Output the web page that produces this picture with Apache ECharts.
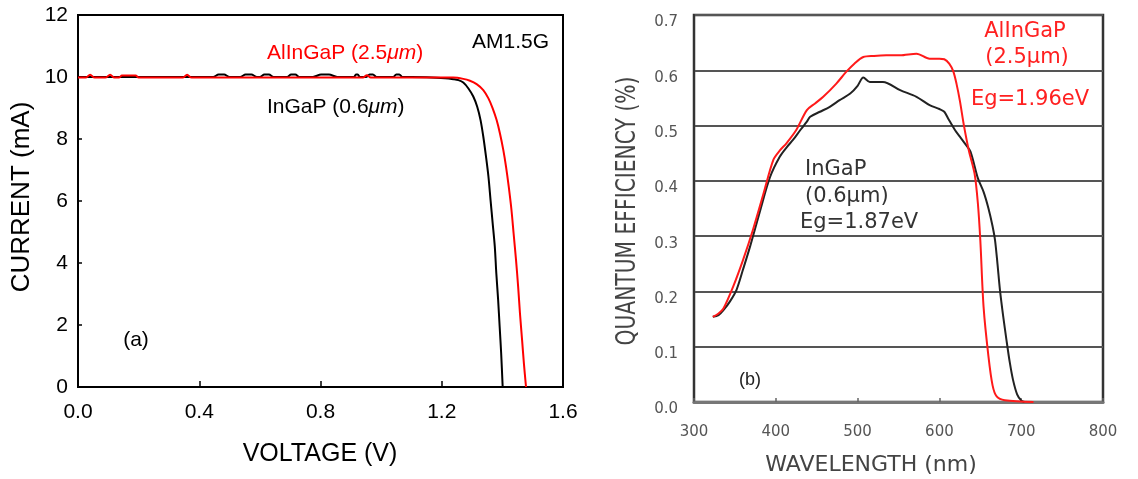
<!DOCTYPE html>
<html>
<head>
<meta charset="utf-8">
<script src="https://cdn.jsdelivr.net/npm/echarts@6/dist/echarts.min.js"></script>
<style>
  html, body { margin: 0; padding: 0; background: #fff; }
  #iv { position: absolute; left: 0; top: 0; width: 590px; height: 479px; }
  #qe { position: absolute; left: 590px; top: 0; width: 548px; height: 479px; filter: blur(0.5px); }
</style>
</head>
<body>
<div id="iv"></div>
<div id="qe"></div>
<script>
// ---- (a) I-V characteristics under AM1.5G ----
const ingapVoltage = [0.00, 0.20, 0.40,
  0.446, 0.464, 0.482, 0.500, 0.535, 0.553, 0.572, 0.590, 0.600, 0.615, 0.630, 0.645,
  0.690, 0.703, 0.717, 0.730, 0.775, 0.802, 0.828, 0.855, 0.910, 0.917, 0.923, 0.930,
  0.950, 0.962, 0.973, 0.985, 1.040, 1.050, 1.060, 1.070, 1.100, 1.150,
  1.211, 1.238, 1.255, 1.271, 1.288, 1.304, 1.317, 1.328, 1.337, 1.346, 1.354, 1.361,
  1.368, 1.375, 1.380, 1.386, 1.391, 1.396, 1.401];
const ingapCurrent = [10.00, 10.00, 10.00,
  10.00, 10.08, 10.08, 10.00, 10.00, 10.08, 10.08, 10.00, 10.00, 10.08, 10.08, 10.00,
  10.00, 10.08, 10.08, 10.00, 10.00, 10.08, 10.08, 10.00, 10.00, 10.08, 10.08, 10.00,
  10.00, 10.08, 10.08, 10.00, 10.00, 10.08, 10.08, 10.00, 10.00, 9.99,
  9.96, 9.93, 9.90, 9.82, 9.63, 9.37, 9.04, 8.61, 8.08, 7.43, 6.79, 6.03,
  5.28, 4.53, 3.67, 2.81, 1.95, 1.09, 0.00];

const alingapVoltage = [0.000, 0.025, 0.040, 0.055, 0.090, 0.106, 0.120, 0.135, 0.145, 0.190, 0.200,
  0.345, 0.360, 0.375, 0.600, 0.800, 0.940, 0.953, 0.966, 1.100, 1.200,
  1.238, 1.271, 1.293, 1.315, 1.337, 1.354, 1.368, 1.381, 1.392, 1.403, 1.412, 1.421,
  1.430, 1.437, 1.445, 1.452, 1.458, 1.465, 1.471, 1.478];
const alingapCurrent = [9.98, 9.98, 10.07, 9.98, 9.98, 10.07, 9.98, 9.98, 10.05, 10.05, 9.98,
  9.98, 10.07, 9.98, 9.98, 9.98, 9.98, 10.06, 9.98, 9.98, 9.98,
  9.98, 9.94, 9.88, 9.77, 9.58, 9.31, 8.99, 8.61, 8.18, 7.65, 7.11, 6.46,
  5.71, 4.96, 4.10, 3.24, 2.38, 1.52, 0.76, 0.00];

// ---- (b) external quantum efficiency spectra ----
const ingapWavelength = [323, 330, 336, 344, 352, 360, 368.5, 381, 393, 405, 414, 421, 430, 438, 442, 454, 466, 478,
  491, 500, 507, 515, 531, 552, 572, 588, 600, 606, 611, 619, 625, 632, 638, 647, 654, 660,
  665, 668, 671, 674, 678, 682, 686, 690, 695, 700, 704];
const ingapQE = [0.154, 0.157, 0.166, 0.182, 0.203, 0.240, 0.281, 0.347, 0.407, 0.444, 0.462, 0.474, 0.492, 0.507, 0.516,
  0.525, 0.534, 0.546, 0.558, 0.572, 0.587, 0.579, 0.579, 0.564, 0.552, 0.537, 0.530, 0.525, 0.512, 0.492, 0.480,
  0.466, 0.453, 0.405, 0.380, 0.350, 0.318, 0.293, 0.250, 0.203, 0.155, 0.112, 0.072, 0.040, 0.014, 0.003, 0.000];

const alingapWavelength = [323, 330, 336, 348, 360, 372, 385, 397, 405, 413, 425, 438, 448, 458, 474, 486, 496, 507,
  520, 535, 552, 572, 588, 600, 606, 612, 617, 621, 625, 630, 636, 643, 647, 650, 654, 660, 665, 670, 680, 715];
const alingapQE = [0.154, 0.160, 0.169, 0.209, 0.257, 0.311, 0.377, 0.438, 0.455, 0.468, 0.492, 0.528, 0.540, 0.552,
  0.576, 0.597, 0.612, 0.624, 0.626, 0.627, 0.627, 0.630, 0.621, 0.621, 0.620, 0.612, 0.598, 0.575, 0.545, 0.500,
  0.455, 0.413, 0.360, 0.293, 0.172, 0.082, 0.030, 0.010, 0.003, 0.000];

const pairs = (xs, ys) => xs.map((x, i) => [x, ys[i]]);

const ARIAL = '"Liberation Sans", Arial, sans-serif';
const DEJAVU = '"DejaVu Sans", Verdana, sans-serif';

// text helper for graphic elements
function label(text, x, y, opts) {
  const o = opts || {};
  return {
    type: 'text', x: x, y: y,
    rotation: o.rotation || 0,
    scaleX: o.scaleX || 1,
    z: 100,
    style: Object.assign({
      text: text,
      fontSize: o.size || 21,
      fontFamily: o.family || ARIAL,
      fill: o.color || '#000',
      align: o.align || 'left', textAlign: o.align || 'left',
      verticalAlign: 'middle', textVerticalAlign: 'middle'
    }, o.rich ? { rich: o.rich } : {})
  };
}

// ---------- panel (a) ----------
const ivChart = echarts.init(document.getElementById('iv'));
const italicMu = (color) => ({
  r: { fontSize: 21, fontFamily: ARIAL, fill: color, color: color },
  i: { fontSize: 21, fontFamily: ARIAL, fontStyle: 'italic', fill: color, color: color }
});
ivChart.setOption({
  animation: false,
  grid: { left: 78, top: 15, width: 485, height: 372, show: true, borderColor: '#000', borderWidth: 2 },
  xAxis: {
    type: 'value', min: 0, max: 1.6, interval: 0.4,
    axisLine: { show: true, lineStyle: { color: '#000', width: 2 } },
    axisTick: { show: true, inside: true, length: 6, lineStyle: { color: '#000', width: 1.5 } },
    axisLabel: { color: '#000', fontSize: 21, fontFamily: ARIAL, margin: 15, formatter: v => v.toFixed(1) },
    splitLine: { show: false }
  },
  yAxis: {
    type: 'value', min: 0, max: 12, interval: 2,
    axisLine: { show: true, lineStyle: { color: '#000', width: 2 } },
    axisTick: { show: true, inside: true, length: 4, lineStyle: { color: '#000', width: 1.5 } },
    axisLabel: { color: '#000', fontSize: 21, fontFamily: ARIAL, margin: 10 },
    splitLine: { show: false }
  },
  series: [
    { name: 'InGaP', type: 'line', data: pairs(ingapVoltage, ingapCurrent), symbol: 'none',
      smooth: 0.3, lineStyle: { color: '#000', width: 2 }, z: 2 },
    { name: 'AlInGaP', type: 'line', data: pairs(alingapVoltage, alingapCurrent), symbol: 'none',
      smooth: 0.3, lineStyle: { color: '#ff0000', width: 2 }, z: 3 }
  ],
  graphic: [
    label('AM1.5G', 472, 42),
    label('{r|AlInGaP (2.5}{i|μm}{r|)}', 267, 53, { rich: italicMu('#ff0000'), color: '#ff0000' }),
    label('{r|InGaP (0.6}{i|μm}{r|)}', 267, 107, { rich: italicMu('#000'), color: '#000' }),
    label('(a)', 136, 340, { align: 'center' }),
    label('VOLTAGE (V)', 320, 454, { align: 'center', size: 25 }),
    label('CURRENT (mA)', 22, 197, { align: 'center', size: 26, rotation: Math.PI / 2 })
  ]
});

// ---------- panel (b) ----------
const qeChart = echarts.init(document.getElementById('qe'));
const OX = 590; // offset of this panel within the page
qeChart.setOption({
  animation: false,
  grid: { left: 104, top: 15, width: 409, height: 387, show: true, borderColor: '#333', borderWidth: 2.5 },
  xAxis: {
    type: 'value', min: 300, max: 800, interval: 100,
    axisLine: { show: true, lineStyle: { color: '#777', width: 3 } },
    axisTick: { show: true, inside: true, length: 4, lineStyle: { color: '#666', width: 1.5 } },
    axisLabel: { color: '#555', fontSize: 15, fontFamily: DEJAVU, margin: 23 },
    splitLine: { show: false }
  },
  yAxis: {
    type: 'value', min: 0, max: 0.7, interval: 0.1,
    axisLine: { show: true, lineStyle: { color: '#333', width: 2 } },
    axisTick: { show: false },
    axisLabel: { color: '#555', fontSize: 15, fontFamily: DEJAVU, margin: 16, verticalAlign: 'top',
      formatter: v => v.toFixed(1) },
    splitLine: { show: true, lineStyle: { color: '#555', width: 2 } }
  },
  series: [
    { name: 'InGaP', type: 'line', data: pairs(ingapWavelength, ingapQE), symbol: 'none',
      smooth: 0.3, lineStyle: { color: '#222', width: 2 }, z: 2 },
    { name: 'AlInGaP', type: 'line', data: pairs(alingapWavelength, alingapQE), symbol: 'none',
      smooth: 0.3, lineStyle: { color: '#ff1a1a', width: 2 }, z: 3 }
  ],
  graphic: [
    label('AlInGaP', 1025 - OX, 32, { align: 'center', family: DEJAVU, color: '#ff2020' }),
    label('(2.5μm)', 1027 - OX, 58, { align: 'center', family: DEJAVU, color: '#ff2020' }),
    label('Eg=1.96eV', 1030 - OX, 100, { align: 'center', family: DEJAVU, color: '#ff2020' }),
    label('InGaP', 805 - OX, 170, { family: DEJAVU, color: '#333' }),
    label('(0.6μm)', 805 - OX, 197, { family: DEJAVU, color: '#333' }),
    label('Eg=1.87eV', 800 - OX, 223, { family: DEJAVU, color: '#333' }),
    label('(b)', 750 - OX, 380, { align: 'center', size: 18, family: ARIAL, color: '#222' }),
    label('WAVELENGTH (nm)', 871 - OX, 465, { align: 'center', size: 22, family: DEJAVU, color: '#444' }),
    label('QUANTUM EFFICIENCY (%)', 628 - OX, 211, { align: 'center', size: 26, family: DEJAVU, color: '#444',
      rotation: Math.PI / 2, scaleX: 0.78 })
  ]
});
</script>
</body>
</html>
